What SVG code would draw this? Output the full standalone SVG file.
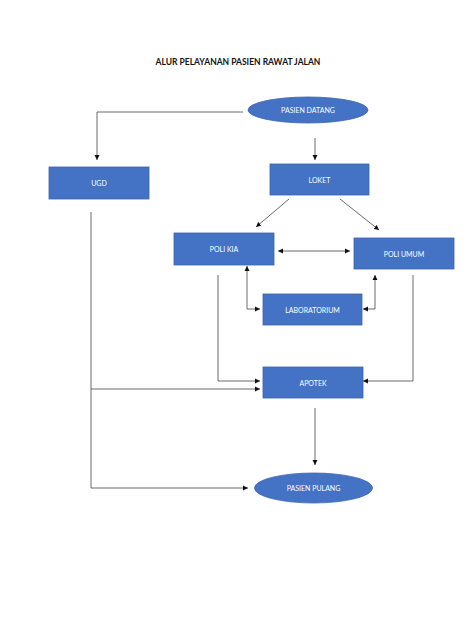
<svg xmlns="http://www.w3.org/2000/svg" width="474" height="632" viewBox="0 0 474 632">
<defs>
<style>
.n{fill:#4472C4;stroke:#3A64B0;stroke-width:0.8}
.t{font-family:Lato,"Liberation Sans",sans-serif;font-size:7px;fill:#fff;text-anchor:middle;dominant-baseline:central}
.c{fill:none;stroke:#444;stroke-width:0.8}
</style>
<marker id="a" markerWidth="6" markerHeight="6" refX="5" refY="3" orient="auto-start-reverse" markerUnits="userSpaceOnUse">
<path d="M0,0.5 L5,3 L0,5.5 Z" fill="#111"/>
</marker>
</defs>
<rect width="474" height="632" fill="#fff"/>
<text x="238" y="62" font-family="Lato,'Liberation Sans',sans-serif" font-size="8.5px" font-weight="bold" fill="#111" text-anchor="middle" dominant-baseline="central">ALUR PELAYANAN PASIEN RAWAT JALAN</text>
<g id="connectors">
<path class="c" d="M243,112 H97 V160" marker-end="url(#a)"/>
<path class="c" d="M315,138 V160" marker-end="url(#a)"/>
<path class="c" d="M289,199 L256,227" marker-end="url(#a)"/>
<path class="c" d="M340,199 L379,230" marker-end="url(#a)"/>
<path class="c" d="M278,251 H350" marker-start="url(#a)" marker-end="url(#a)"/>
<path class="c" d="M247,266 V309 H260" marker-start="url(#a)" marker-end="url(#a)"/>
<path class="c" d="M363,309 H375 V275" marker-start="url(#a)" marker-end="url(#a)"/>
<path class="c" d="M218,275 V381 H260" marker-end="url(#a)"/>
<path class="c" d="M413,275 V381 H363" marker-end="url(#a)"/>
<path class="c" d="M91,212 V488 H248" marker-end="url(#a)"/>
<path class="c" d="M91,389 H260" marker-end="url(#a)"/>
<path class="c" d="M315,408 V465" marker-end="url(#a)"/>
</g>
<g id="pasien-datang"><ellipse class="n" cx="308" cy="110" rx="60" ry="13"/><text class="t" x="308" y="110">PASIEN DATANG</text></g>
<g id="ugd"><rect class="n" x="49" y="167" width="100" height="32"/><text class="t" x="99" y="183">UGD</text></g>
<g id="loket"><rect class="n" x="270" y="164" width="99" height="31"/><text class="t" x="319.5" y="179.5">LOKET</text></g>
<g id="poli-kia"><rect class="n" x="174" y="233" width="100" height="32"/><text class="t" x="224" y="249">POLI KIA</text></g>
<g id="poli-umum"><rect class="n" x="354" y="238" width="100" height="31"/><text class="t" x="404" y="254">POLI UMUM</text></g>
<g id="laboratorium"><rect class="n" x="263" y="294" width="99" height="31"/><text class="t" x="312.5" y="309.5">LABORATORIUM</text></g>
<g id="apotek"><rect class="n" x="263" y="367" width="100" height="31"/><text class="t" x="313" y="382.5">APOTEK</text></g>
<g id="pasien-pulang"><ellipse class="n" cx="313.5" cy="488" rx="59" ry="15"/><text class="t" x="313.5" y="488">PASIEN PULANG</text></g>
</svg>
